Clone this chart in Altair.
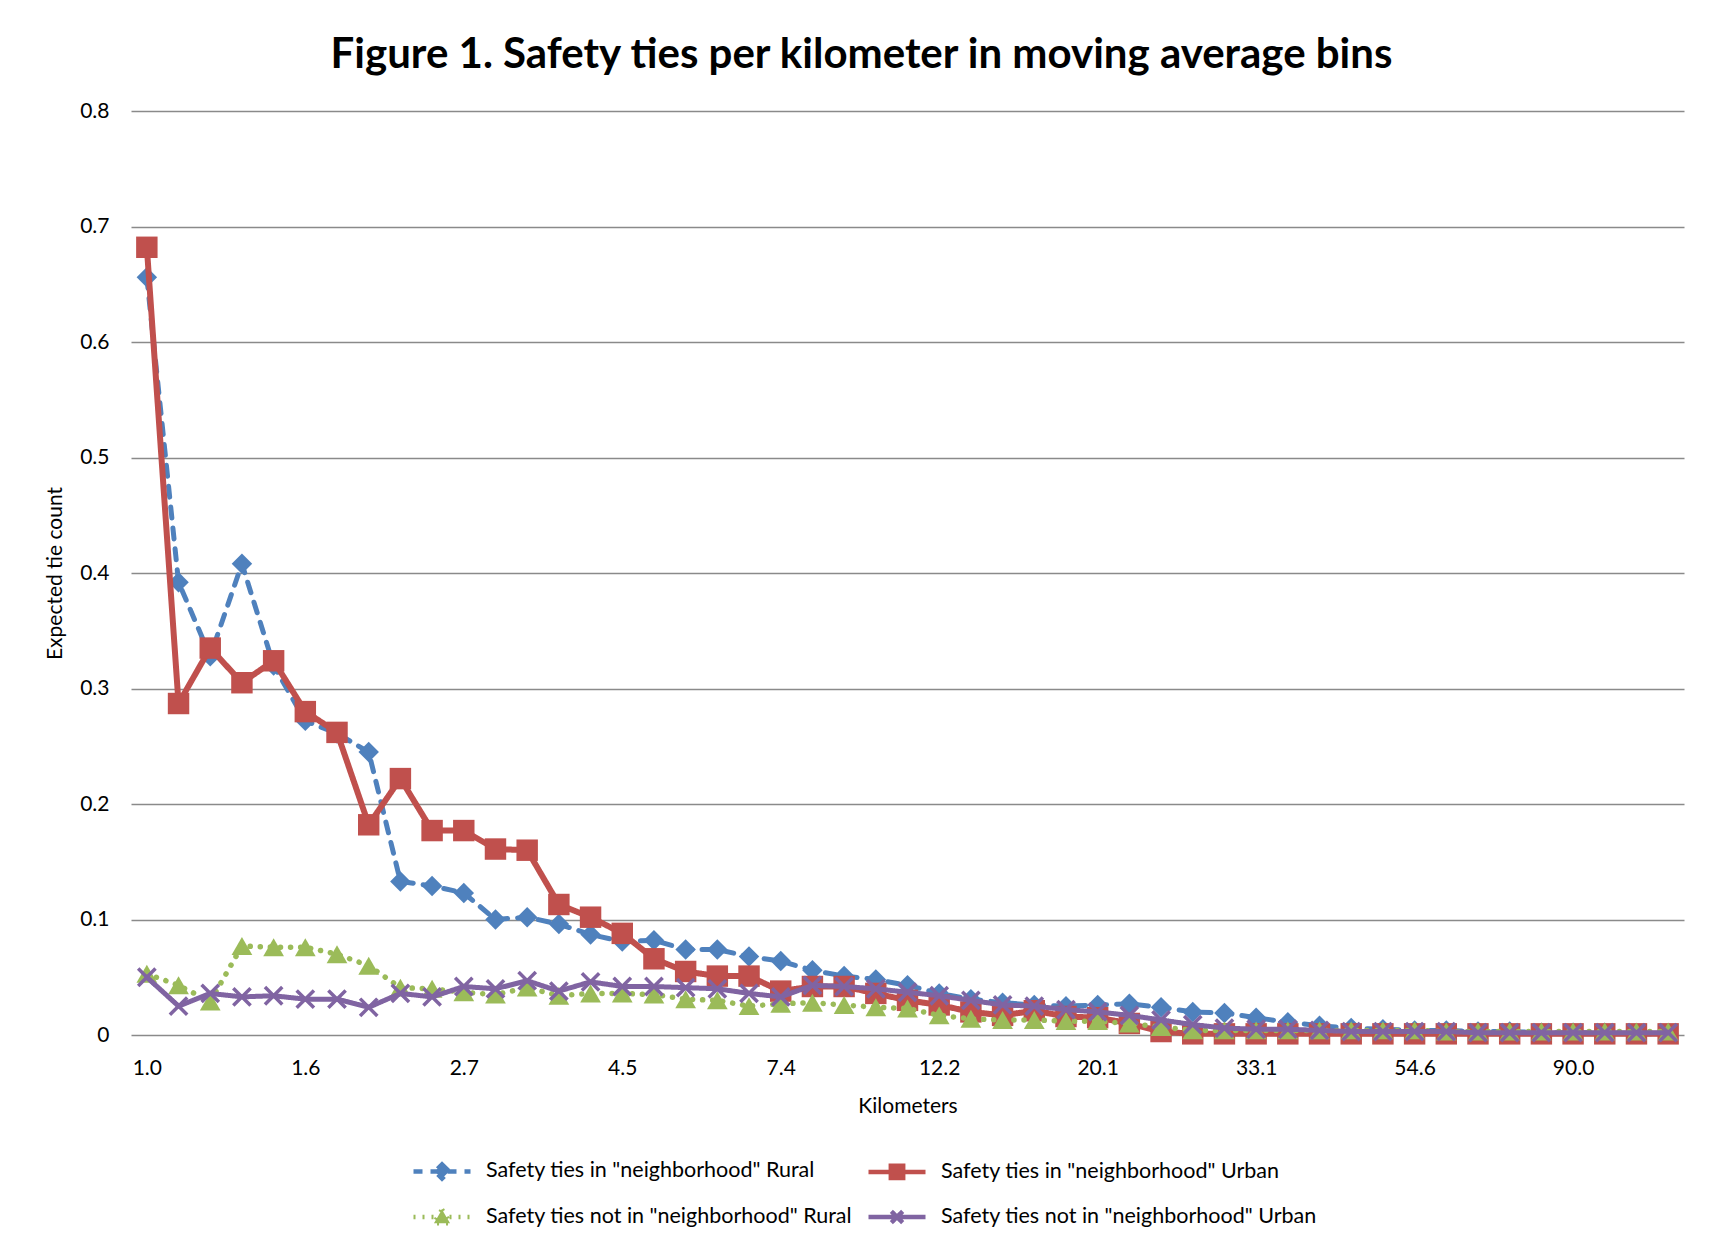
import altair as alt
import pandas as pd

# Category labels (km, moving-average bins)
km_labels = ["1.0", "1.1", "1.2", "1.3", "1.5", "1.6", "1.8", "2.0", "2.2", "2.5",
             "2.7", "3.0", "3.3", "3.7", "4.1", "4.5", "5.0", "5.5", "6.0", "6.7",
             "7.4", "8.2", "9.0", "10.0", "11.0", "12.2", "13.5", "14.9", "16.4", "18.2",
             "20.1", "22.2", "24.5", "27.1", "30.0", "33.1", "36.6", "40.4", "44.7", "49.4",
             "54.6", "60.3", "66.7", "73.7", "81.5", "90.0", "99.5", "109.9", "121.5"]
shown_labels = ["1.0", "1.6", "2.7", "4.5", "7.4", "12.2", "20.1", "33.1", "54.6", "90.0"]

rural_in = [0.656, 0.392, 0.328, 0.408, 0.320, 0.272, 0.261, 0.245, 0.133, 0.129,
            0.123, 0.100, 0.102, 0.096, 0.087, 0.081, 0.082, 0.074, 0.074, 0.068,
            0.064, 0.056, 0.051, 0.048, 0.043, 0.036, 0.031, 0.028, 0.026, 0.025,
            0.026, 0.027, 0.024, 0.020, 0.019, 0.015, 0.011, 0.008, 0.006, 0.005,
            0.004, 0.004, 0.003, 0.003, 0.002, 0.002, 0.002, 0.001, 0.001]
urban_in = [0.682, 0.287, 0.335, 0.305, 0.324, 0.280, 0.262, 0.182, 0.222, 0.177,
            0.177, 0.161, 0.160, 0.113, 0.102, 0.088, 0.066, 0.055, 0.051, 0.051,
            0.038, 0.042, 0.042, 0.036, 0.030, 0.026, 0.020, 0.017, 0.021, 0.016,
            0.015, 0.010, 0.003, 0.001, 0.001, 0.001, 0.001, 0.001, 0.001, 0.001,
            0.001, 0.001, 0.001, 0.001, 0.001, 0.001, 0.001, 0.001, 0.001]
rural_out = [0.053, 0.043, 0.029, 0.077, 0.076, 0.076, 0.070, 0.060, 0.041, 0.040,
             0.037, 0.035, 0.041, 0.034, 0.036, 0.036, 0.035, 0.031, 0.030, 0.025,
             0.027, 0.028, 0.026, 0.024, 0.023, 0.017, 0.014, 0.013, 0.013, 0.012,
             0.012, 0.010, 0.007, 0.004, 0.004, 0.004, 0.004, 0.004, 0.004, 0.004,
             0.004, 0.003, 0.003, 0.003, 0.003, 0.003, 0.003, 0.003, 0.003]
urban_out = [0.050, 0.025, 0.036, 0.033, 0.034, 0.031, 0.031, 0.024, 0.036, 0.033,
             0.042, 0.040, 0.047, 0.038, 0.046, 0.042, 0.042, 0.041, 0.040, 0.036,
             0.033, 0.043, 0.042, 0.040, 0.037, 0.034, 0.030, 0.026, 0.025, 0.022,
             0.020, 0.017, 0.013, 0.009, 0.006, 0.005, 0.005, 0.004, 0.003, 0.003,
             0.003, 0.003, 0.002, 0.002, 0.002, 0.002, 0.002, 0.002, 0.002]

series_names = ['Safety ties in "neighborhood" Rural',
                'Safety ties in "neighborhood" Urban',
                'Safety ties not in "neighborhood" Rural',
                'Safety ties not in "neighborhood" Urban']
series_values = [rural_in, urban_in, rural_out, urban_out]
colors = ["#4F81BD", "#C0504D", "#9BBB59", "#8064A2"]
line_dashes = [[11, 10], [1, 0], [0.1, 10], [1, 0]]
line_widths = [5, 6, 5.5, 5]
marker_shapes = ["diamond", "square", "triangle-up", "M-1,-1L1,1M-1,1L1,-1"]
marker_sizes = [420, 460, 430, 300]
legend_paths = ["M-3,0L3,0M0,-0.75L0.75,0L0,0.75L-0.75,0Z",
                "M-3,0L3,0M-0.65,-0.65L0.65,-0.65L0.65,0.65L-0.65,0.65Z",
                "M-3,0L3,0M0,-0.8L0.85,0.65L-0.85,0.65Z",
                "M-3,0L3,0M-0.6,-0.6L0.6,0.6M-0.6,0.6L0.6,-0.6"]
legend_dashes = [[9, 8], [1, 0], [2, 7], [1, 0]]

rows = []
for name, vals in zip(series_names, series_values):
    for i, (k, v) in enumerate(zip(km_labels, vals)):
        rows.append({"series": name, "km": k, "value": v, "idx": i})
df = pd.DataFrame(rows)

FONT = "Lato"

x_enc = alt.X("km:O",
              scale=alt.Scale(domain=km_labels, type="point", padding=0.5),
              axis=alt.Axis(values=shown_labels, title="Kilometers", labelAngle=0,
                            domain=False, ticks=False, grid=False,
                            labelPadding=22, titlePadding=17))
y_enc = alt.Y("value:Q",
              scale=alt.Scale(domain=[0, 0.8], nice=False),
              axis=alt.Axis(values=[0, 0.1, 0.2, 0.3, 0.4, 0.5, 0.6, 0.7, 0.8],
                            format=".1~f", title="Expected tie count",
                            domain=False, ticks=False, grid=True,
                            gridColor="#8a8a8a", gridWidth=1.5,
                            labelPadding=22, titlePadding=14))

layers = []
for name, col, dash, lw, shp, msz in zip(series_names, colors, line_dashes,
                                          line_widths, marker_shapes, marker_sizes):
    base = alt.Chart(df).transform_filter(alt.datum.series == name)
    line = base.mark_line(color=col, strokeDash=dash, strokeWidth=lw,
                          strokeCap="round", strokeJoin="round").encode(
        x=x_enc, y=y_enc, order=alt.Order("idx:Q"))
    if shp.startswith("M"):
        pts = base.mark_point(shape=shp, filled=False, color=col, size=msz,
                              strokeWidth=3.5, opacity=1).encode(x=x_enc, y=y_enc)
    else:
        pts = base.mark_point(shape=shp, filled=True, color=col, size=msz,
                              opacity=1).encode(x=x_enc, y=y_enc)
    layers += [line, pts]

legend_layer = alt.Chart(df).transform_filter("false").mark_point(
    filled=True, strokeWidth=4.5, strokeCap="round", opacity=1).encode(
    shape=alt.Shape("series:N", scale=alt.Scale(domain=series_names, range=legend_paths),
                    legend=alt.Legend(title=None)),
    fill=alt.Fill("series:N", scale=alt.Scale(domain=series_names, range=colors),
                  legend=alt.Legend(title=None)),
    stroke=alt.Stroke("series:N", scale=alt.Scale(domain=series_names, range=colors),
                      legend=alt.Legend(title=None)),
    strokeDash=alt.StrokeDash("series:N", scale=alt.Scale(domain=series_names, range=legend_dashes),
                              legend=alt.Legend(title=None)),
)
layers.append(legend_layer)

chart = alt.layer(*layers).properties(
    width=1553, height=924,
    autosize=alt.AutoSizeParams(type="none"),
    padding={"left": 131, "top": 111, "right": 29, "bottom": 210},
    title=alt.TitleParams(
        text="Figure 1. Safety ties per kilometer in moving average bins",
        font=FONT, fontSize=42, fontWeight="bold", color="black",
        anchor="middle", dx=-46, offset=23),
    background="white",
).configure_view(stroke=None).configure_axis(
    labelFont=FONT, labelFontSize=21, labelColor="black",
    titleFont=FONT, titleFontSize=21, titleFontWeight="normal", titleColor="black",
).configure_legend(
    orient="none", legendX=299, legendY=1048, columns=2, direction="horizontal",
    symbolSize=361, symbolStrokeWidth=4.5, symbolOpacity=1,
    labelFont=FONT, labelFontSize=21.5,
    labelColor="black", labelOffset=32, columnPadding=6, rowPadding=12,
    labelLimit=600,
)

chart.save("out.html", embed_options={"renderer": "svg", "actions": False})
